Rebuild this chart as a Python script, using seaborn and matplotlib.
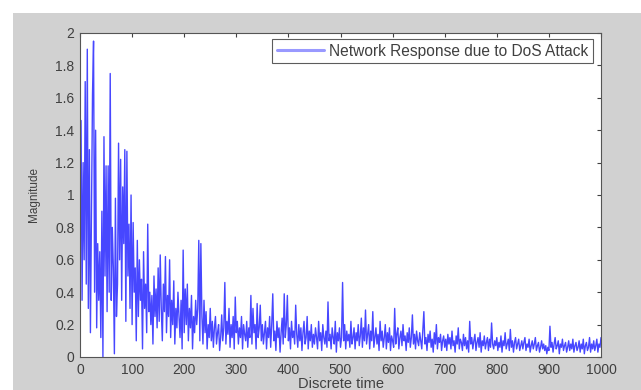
import numpy as np
import matplotlib
matplotlib.use("Agg")
import matplotlib.pyplot as plt
import seaborn as sns
from matplotlib.patches import Rectangle
from matplotlib.ticker import FormatStrFormatter

magnitude = [
    0.50, 1.46, 0.35, 1.20, 0.60, 1.70, 0.45, 1.90, 0.30, 1.28, 0.15, 0.88, 1.62, 1.95, 0.40, 1.40, 0.18, 0.70, 0.35, 0.65, 0.12, 0.90, 0.00, 1.36, 0.50,
    1.18, 0.28, 1.18, 0.40, 1.75, 0.35, 0.80, 0.55, 0.02, 0.98, 0.25, 0.45, 1.32, 0.60, 1.22, 0.35, 1.05, 0.70, 1.28, 0.22, 1.27, 0.50, 0.82, 0.30, 1.00,
    0.20, 0.83, 0.40, 0.55, 0.10, 0.72, 0.25, 0.60, 0.35, 0.48, 0.05, 0.65, 0.30, 0.45, 0.15, 0.82, 0.28, 0.40, 0.20, 0.38, 0.08, 0.50, 0.25, 0.42, 0.18,
    0.55, 0.22, 0.63, 0.30, 0.10, 0.45, 0.28, 0.62, 0.15, 0.38, 0.25, 0.60, 0.12, 0.35, 0.20, 0.47, 0.08, 0.30, 0.18, 0.40, 0.25, 0.12, 0.35, 0.05, 0.66,
    0.15, 0.42, 0.20, 0.45, 0.10, 0.30, 0.18, 0.38, 0.05, 0.25, 0.15, 0.35, 0.20, 0.30, 0.72, 0.10, 0.70, 0.25, 0.08, 0.35, 0.15, 0.28, 0.05, 0.20, 0.12,
    0.30, 0.10, 0.22, 0.06, 0.18, 0.25, 0.08, 0.15, 0.20, 0.04, 0.12, 0.26, 0.10, 0.18, 0.46, 0.08, 0.22, 0.14, 0.30, 0.06, 0.20, 0.12, 0.25, 0.05, 0.37,
    0.15, 0.22, 0.08, 0.18, 0.12, 0.25, 0.05, 0.20, 0.14, 0.10, 0.22, 0.06, 0.18, 0.12, 0.38, 0.08, 0.30, 0.15, 0.20, 0.05, 0.33, 0.12, 0.18, 0.32, 0.10,
    0.20, 0.08, 0.15, 0.22, 0.05, 0.18, 0.12, 0.25, 0.06, 0.20, 0.39, 0.10, 0.16, 0.04, 0.22, 0.12, 0.18, 0.03, 0.15, 0.24, 0.08, 0.39, 0.12, 0.20, 0.38,
    0.10, 0.18, 0.05, 0.22, 0.12, 0.16, 0.08, 0.32, 0.14, 0.06, 0.20, 0.10, 0.18, 0.04, 0.15, 0.22, 0.08, 0.12, 0.25, 0.05, 0.16, 0.10, 0.20, 0.06, 0.14,
    0.08, 0.18, 0.12, 0.05, 0.22, 0.10, 0.15, 0.04, 0.20, 0.12, 0.08, 0.16, 0.06, 0.34, 0.10, 0.14, 0.05, 0.18, 0.12, 0.08, 0.22, 0.03, 0.15, 0.10, 0.18,
    0.06, 0.12, 0.46, 0.10, 0.20, 0.05, 0.16, 0.10, 0.14, 0.06, 0.22, 0.08, 0.12, 0.18, 0.05, 0.15, 0.10, 0.20, 0.07, 0.13, 0.24, 0.06, 0.18, 0.10, 0.29,
    0.08, 0.14, 0.20, 0.05, 0.16, 0.10, 0.28, 0.06, 0.12, 0.18, 0.08, 0.14, 0.04, 0.22, 0.10, 0.16, 0.06, 0.12, 0.20, 0.05, 0.15, 0.09, 0.18, 0.04, 0.13,
    0.10, 0.06, 0.30, 0.08, 0.14, 0.18, 0.05, 0.12, 0.16, 0.07, 0.20, 0.10, 0.13, 0.04, 0.15, 0.09, 0.18, 0.06, 0.12, 0.26, 0.08, 0.14, 0.05, 0.16, 0.10,
    0.07, 0.15, 0.10, 0.05, 0.17, 0.28, 0.08, 0.12, 0.04, 0.14, 0.09, 0.16, 0.06, 0.11, 0.03, 0.15, 0.08, 0.20, 0.05, 0.12, 0.09, 0.14, 0.04, 0.10, 0.13,
    0.06, 0.11, 0.04, 0.14, 0.08, 0.12, 0.05, 0.16, 0.07, 0.10, 0.03, 0.13, 0.08, 0.18, 0.05, 0.11, 0.09, 0.04, 0.14, 0.07, 0.12, 0.05, 0.10, 0.03, 0.22,
    0.08, 0.12, 0.05, 0.10, 0.14, 0.04, 0.09, 0.12, 0.06, 0.15, 0.03, 0.10, 0.07, 0.13, 0.05, 0.09, 0.12, 0.04, 0.11, 0.06, 0.21, 0.08, 0.05, 0.10, 0.07,
    0.12, 0.04, 0.09, 0.06, 0.13, 0.03, 0.10, 0.07, 0.15, 0.05, 0.08, 0.11, 0.04, 0.17, 0.06, 0.10, 0.03, 0.09, 0.12, 0.05, 0.08, 0.11, 0.04, 0.07, 0.10,
    0.05, 0.09, 0.12, 0.04, 0.08, 0.06, 0.11, 0.03, 0.07, 0.10, 0.05, 0.08, 0.12, 0.04, 0.07, 0.09, 0.03, 0.06, 0.10, 0.05, 0.08, 0.04, 0.07, 0.02, 0.06,
    0.04, 0.19, 0.06, 0.09, 0.03, 0.08, 0.12, 0.05, 0.07, 0.10, 0.02, 0.08, 0.06, 0.11, 0.04, 0.07, 0.09, 0.03, 0.06, 0.10, 0.04, 0.08, 0.05, 0.11, 0.03,
    0.07, 0.09, 0.04, 0.06, 0.10, 0.03, 0.08, 0.05, 0.11, 0.02, 0.07, 0.09, 0.04, 0.06, 0.12, 0.03, 0.08, 0.05, 0.10, 0.04, 0.07, 0.11, 0.03, 0.08, 0.06,
    0.12,
]
time = np.arange(0, 2 * len(magnitude), 2)

x_ticks = [0, 100, 200, 300, 400, 500, 600, 700, 800, 900, 1000]
y_ticks = [0, 0.2, 0.4, 0.6, 0.8, 1, 1.2, 1.4, 1.6, 1.8, 2]

sns.set_style("white")
plt.rcParams['font.family'] = ['Liberation Sans', 'DejaVu Sans']

fig = plt.figure(figsize=(6.41, 3.90), dpi=100, facecolor='white')
# grey matlab-style figure background (white strip left and top in the scan)
fig.patches.append(Rectangle((13 / 641, 0), 1, 1 - 13 / 390, transform=fig.transFigure,
                             facecolor='#d1d1d1', edgecolor='none', zorder=-10))
ax = fig.add_axes([80 / 641, 1 - 357 / 390, 521 / 641, 324 / 390])
ax.set_zorder(5)
ax.set_facecolor('white')

sns.lineplot(x=time, y=magnitude, ax=ax, color='blue', linewidth=1.0, alpha=0.72,
             label='Network Response due to DoS Attack')

ax.set_xlim(0, 1000)
ax.set_ylim(0, 2)
ax.set_xticks(x_ticks)
ax.set_yticks(y_ticks)
ax.yaxis.set_major_formatter(FormatStrFormatter('%g'))
ax.tick_params(direction='in', length=3, width=0.8, top=True, right=True,
               labelsize=10, colors='#404040', pad=4)
for s in ax.spines.values():
    s.set_color('#555555')
    s.set_linewidth(0.8)

ax.set_xlabel('Discrete time', fontsize=10.5, color='#404040', labelpad=0)
ax.set_ylabel('Magnitude', fontsize=8.5, color='#404040', labelpad=11)

leg = ax.legend(loc='upper right', bbox_to_anchor=(0.9846, 0.9815), borderaxespad=0,
                fontsize=11.2, frameon=True, fancybox=False, handlelength=3.0,
                handletextpad=0.35, borderpad=0.3)
leg.get_frame().set_edgecolor('#333333')
leg.get_frame().set_linewidth(0.8)
for line in leg.get_lines():
    line.set_linewidth(2.2)
    line.set_alpha(0.4)
for t in leg.get_texts():
    t.set_color('#404040')

fig.savefig('out.png', dpi=100, facecolor=fig.get_facecolor())
plt.close()
